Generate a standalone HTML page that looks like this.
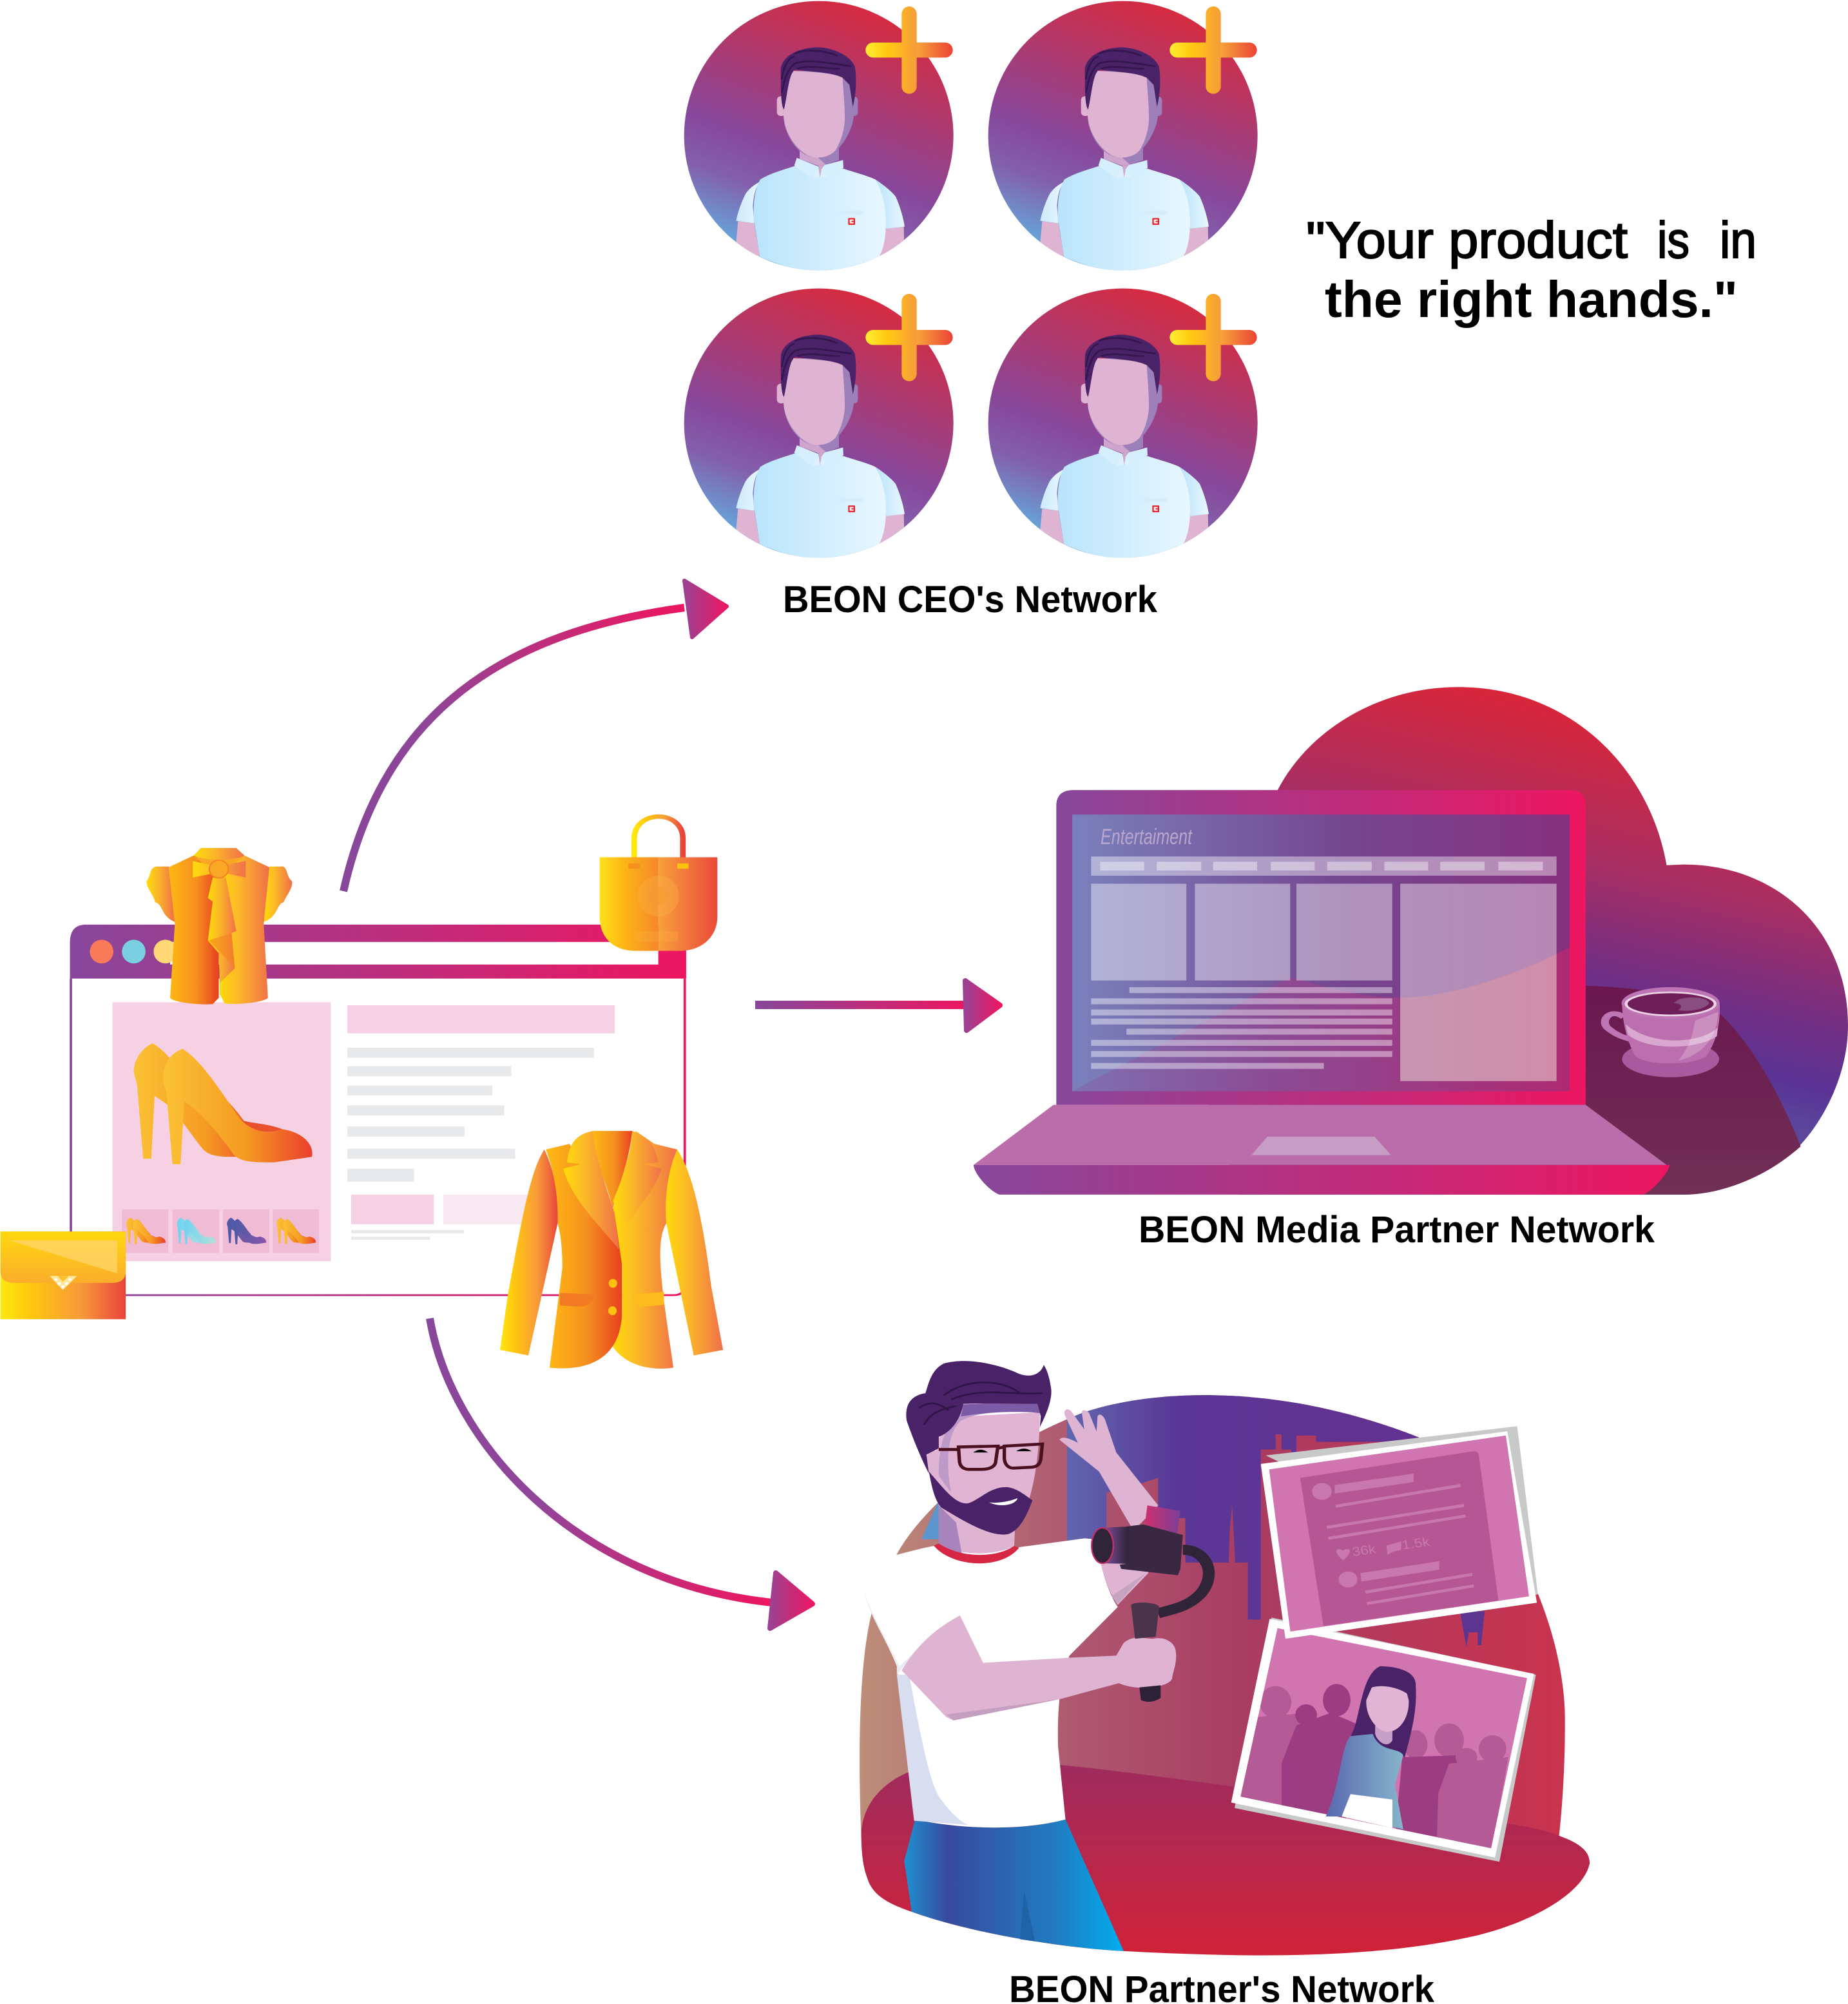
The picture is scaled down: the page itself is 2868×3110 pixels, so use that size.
<!DOCTYPE html>
<html><head><meta charset="utf-8"><title>BEON Networks</title>
<style>html,body{margin:0;padding:0;background:#fff}svg{display:block}
text{font-family:"Liberation Sans",sans-serif;white-space:pre}</style></head><body>
<svg xmlns="http://www.w3.org/2000/svg" width="2868" height="3110" viewBox="0 0 2868 3110">
<defs>
<linearGradient id="pp"><stop offset="0" stop-color="#87479b"/><stop offset="1" stop-color="#ed1660"/></linearGradient>
<linearGradient id="head"><stop offset="0" stop-color="#9c4192"/><stop offset="1" stop-color="#ec1763"/></linearGradient>
<linearGradient id="a1" gradientUnits="userSpaceOnUse" x1="533" y1="1383" x2="1062" y2="943"><stop offset="0" stop-color="#87479b"/><stop offset=".4" stop-color="#8f4598"/><stop offset="1" stop-color="#ed1660"/></linearGradient>
<linearGradient id="a3" gradientUnits="userSpaceOnUse" x1="667" y1="2046" x2="1198" y2="2487"><stop offset="0" stop-color="#87479b"/><stop offset=".45" stop-color="#90459a"/><stop offset="1" stop-color="#ed1660"/></linearGradient>
<linearGradient id="av" x1=".666" y1="0" x2=".314" y2=".945"><stop offset="0" stop-color="#d92a3c"/><stop offset=".61" stop-color="#87479b"/><stop offset=".78" stop-color="#8360ab"/><stop offset="1" stop-color="#65a5da"/></linearGradient>
<linearGradient id="shL"><stop offset="0" stop-color="#b9e4fb"/><stop offset="1" stop-color="#e8f7ff"/></linearGradient>
<linearGradient id="shS"><stop offset="0" stop-color="#cdeafb"/><stop offset="1" stop-color="#e8f7ff"/></linearGradient>
<linearGradient id="plH"><stop offset="0" stop-color="#ffee33"/><stop offset=".25" stop-color="#ffc90f"/><stop offset=".6" stop-color="#f7a13a"/><stop offset="1" stop-color="#ea4335"/></linearGradient>
<linearGradient id="plV"><stop offset="0" stop-color="#fbb225"/><stop offset="1" stop-color="#f59d3a"/></linearGradient>
<linearGradient id="or1"><stop offset="0" stop-color="#ffb914"/><stop offset=".55" stop-color="#f58f1f"/><stop offset="1" stop-color="#e8401f"/></linearGradient>
<linearGradient id="or2"><stop offset="0" stop-color="#ffdc0a"/><stop offset=".4" stop-color="#fbb728"/><stop offset="1" stop-color="#f0704a"/></linearGradient>
<linearGradient id="or3"><stop offset="0" stop-color="#ffe80f"/><stop offset=".25" stop-color="#ffc60f"/><stop offset=".65" stop-color="#f7993a"/><stop offset="1" stop-color="#e8443a"/></linearGradient>
<linearGradient id="bagL"><stop offset="0" stop-color="#ffe01a"/><stop offset=".4" stop-color="#fdb715"/><stop offset="1" stop-color="#f5882a"/></linearGradient>
<linearGradient id="bagR"><stop offset="0" stop-color="#f8a03c"/><stop offset="1" stop-color="#ea4a3a"/></linearGradient>
<linearGradient id="shoe1"><stop offset="0" stop-color="#fbc235"/><stop offset=".55" stop-color="#f59b22"/><stop offset="1" stop-color="#ea3f2e"/></linearGradient>
<linearGradient id="shoe2"><stop offset="0" stop-color="#6fd3f2"/><stop offset="1" stop-color="#b5e0d8"/></linearGradient>
<linearGradient id="shoe3"><stop offset="0" stop-color="#4a5aa8"/><stop offset="1" stop-color="#8a55a8"/></linearGradient>
<linearGradient id="flap" x1="0" y1="0" x2="0" y2="1"><stop offset="0" stop-color="#ffd80f"/><stop offset="1" stop-color="#fbad2b"/></linearGradient>
<linearGradient id="cloud" gradientUnits="userSpaceOnUse" x1="1000" y1="60" x2="642" y2="955"><stop offset="0" stop-color="#d9263a"/><stop offset=".4" stop-color="#a82e62"/><stop offset=".72" stop-color="#6f2f86"/><stop offset=".88" stop-color="#5a3394"/><stop offset="1" stop-color="#5b469c"/></linearGradient>
<linearGradient id="table" x1="0" y1="0" x2="0" y2="1"><stop offset="0" stop-color="#6a174f"/><stop offset="1" stop-color="#703055"/></linearGradient>
<linearGradient id="scr"><stop offset="0" stop-color="#7a80bc"/><stop offset=".55" stop-color="#75468f"/><stop offset="1" stop-color="#86307e"/></linearGradient>
<linearGradient id="scr2"><stop offset="0" stop-color="#7f70b2"/><stop offset=".4" stop-color="#8b4b94"/><stop offset="1" stop-color="#ad2a72"/></linearGradient>
<linearGradient id="ground" gradientUnits="userSpaceOnUse" x1="45" y1="0" x2="1475" y2="0"><stop offset="0" stop-color="#bd8e79"/><stop offset=".3" stop-color="#ae5870"/><stop offset=".55" stop-color="#a93c62"/><stop offset="1" stop-color="#c9334e"/></linearGradient>
<linearGradient id="sky" gradientUnits="userSpaceOnUse" x1="465" y1="0" x2="1100" y2="0"><stop offset="0" stop-color="#5f66ae"/><stop offset=".35" stop-color="#5a3796"/><stop offset="1" stop-color="#623290"/></linearGradient>
<linearGradient id="floor" x1="0" y1="0" x2="0" y2="1"><stop offset="0" stop-color="#9f2b5e"/><stop offset="1" stop-color="#d02238"/></linearGradient>
<linearGradient id="jean"><stop offset="0" stop-color="#1e90cf"/><stop offset=".2" stop-color="#384a9f"/><stop offset=".7" stop-color="#1f7dc2"/><stop offset="1" stop-color="#01aeef"/></linearGradient>
<linearGradient id="phone"><stop offset="0" stop-color="#d02f6e"/><stop offset="1" stop-color="#7a4096"/></linearGradient>
<linearGradient id="lens"><stop offset="0" stop-color="#8a52a0"/><stop offset=".5" stop-color="#5a3a6e"/><stop offset="1" stop-color="#2f2438"/></linearGradient>
<linearGradient id="wtop"><stop offset="0" stop-color="#5868b0"/><stop offset="1" stop-color="#86b5ca"/></linearGradient>
<g id="shoe">
<path d="M323,643C300,655 282,690 283,722L290,755L303,955L320,955L327,785L358,812C385,850 410,900 430,930C445,950 470,950 500,950L560,880L520,860C490,800 400,690 360,685C350,668 335,652 323,643Z"/>
<path d="M386,658C360,670 345,700 345,740C347,760 352,770 352,775L365,970H382L390,800C420,825 460,880 495,945C510,965 540,965 580,965L660,950C665,920 645,885 597,875C580,885 540,890 510,850C480,800 430,690 386,658Z"/>
</g>
<clipPath id="avc"><circle cx="692" cy="632" r="627"/></clipPath>
<g id="avatar">
<circle cx="692" cy="632" r="627" fill="url(#av)"/>
<g clip-path="url(#avc)">
<path d="M316,1030L392,1040L418,1195L480,1262L250,1262L307,1130Z" fill="#dfb3d2"/>
<path d="M1005,1065L1088,1055L1092,1240L900,1262L972,1195Z" fill="#dfb3d2"/>
<path d="M420,845C390,860 365,880 350,905C330,945 315,990 307,1028L392,1040L385,960C390,900 400,870 420,845Z" fill="url(#shS)"/>
<path d="M955,835C1000,865 1030,890 1050,915C1070,960 1085,1010 1092,1055L1005,1065C1005,960 985,880 955,835Z" fill="url(#shL)"/>
<path d="M420,835C470,805 530,790 590,770L690,815L700,825L705,815L805,785C850,800 910,815 955,835C985,880 1005,960 1005,1040C1005,1110 990,1170 972,1195C870,1240 780,1262 695,1265C600,1262 500,1232 418,1195L390,1020C385,950 395,875 420,835Z" fill="url(#shL)"/>
</g>
<path d="M603,690L603,740L690,772L725,765L786,745L786,690Z" fill="#cda5cc"/>
<path d="M690,735L786,690L786,745L725,767Z" fill="#9d80ba"/>
<path d="M680,785L735,785L738,825L660,828Z" fill="#dcf1fd"/>
<path d="M690,772L698,828L704,790L725,765Z" fill="#cda5cc"/>
<path d="M590,735L690,775L698,825L690,790L650,825L578,770Z" fill="#d5effd"/>
<path d="M805,745L720,768L703,790L735,822L807,782Z" fill="#d5effd"/>
<rect x="497" y="448" width="40" height="92" rx="18" fill="#dfb3d2"/>
<rect x="838" y="450" width="36" height="90" rx="16" fill="#9d80ba"/>
<path d="M528,360L528,540C530,620 580,690 620,715C650,735 720,745 770,705C810,670 850,600 855,540L858,380C840,340 720,330 600,330Z" fill="#9d80ba"/>
<path d="M575,330C555,360 535,400 530,440L528,540C535,620 580,680 620,710C660,745 735,740 770,700C795,660 815,600 813,540C812,470 805,410 803,360C760,340 660,335 575,330Z" fill="#dfb3d2"/>
<path d="M515,320C520,270 580,225 680,220C760,220 840,260 860,310C870,370 865,440 851,498L835,395L803,362C750,335 660,335 588,325L575,328C550,360 545,450 530,510C515,490 515,420 515,320Z" fill="#4a2268"/>
<path d="M520,370C525,320 545,270 580,262M520,430C530,370 550,310 590,290M580,250C630,225 720,235 780,260M585,295C650,270 760,300 845,308M590,320C650,300 720,320 790,320" fill="none" stroke="#34164f" stroke-width="8"/>
<rect x="790" y="982" width="108" height="16" fill="#d5ecfa"/>
<rect x="829" y="1015" width="32" height="32" rx="3" fill="#e8262d"/>
<path d="M836,1022h18v6h-10v6h10v6h-18z" fill="#fff"/>
<path d="M910,233a35,35 0 0 1 35,-35H1281a35,35 0 0 1 0,70H945a35,35 0 0 1 -35,-35Z" fill="url(#plH)"/>
<path d="M1078,65a35,35 0 0 1 70,0V402a35,35 0 0 1 -70,0Z" fill="url(#plV)"/>
</g>
</defs>

<use href="#avatar" transform="translate(1040,0) scale(.33333)"/>
<use href="#avatar" transform="translate(1512,0) scale(.33333)"/>
<use href="#avatar" transform="translate(1040,446) scale(.33333)"/>
<use href="#avatar" transform="translate(1512,446) scale(.33333)"/>

<g fill="#000" stroke="#000" stroke-width="2" font-size="80">
<text x="2027" y="400" textLength="499" lengthAdjust="spacingAndGlyphs">"Your product</text>
<text x="2572" y="400" textLength="50" lengthAdjust="spacingAndGlyphs">is</text>
<text x="2669" y="400" textLength="57" lengthAdjust="spacingAndGlyphs">in</text>
</g>
<text x="2056" y="492" font-size="80" font-weight="bold" textLength="641" lengthAdjust="spacingAndGlyphs" fill="#000">the right hands."</text>
<text x="1215" y="950" font-size="58" font-weight="bold" textLength="581" lengthAdjust="spacingAndGlyphs" fill="#000">BEON CEO's Network</text>
<text x="1767" y="1928" font-size="58" font-weight="bold" textLength="801" lengthAdjust="spacingAndGlyphs" fill="#000">BEON Media Partner Network</text>
<text x="1566" y="3107" font-size="58" font-weight="bold" textLength="660" lengthAdjust="spacingAndGlyphs" fill="#000">BEON Partner's Network</text>

<!-- arrows -->
<path d="M533,1383C590,1130 750,985 1062,943" fill="none" stroke="url(#a1)" stroke-width="12"/>
<path d="M1062,901L1128,941L1074,989Z" fill="url(#head)" stroke="url(#head)" stroke-width="6" stroke-linejoin="round"/>
<rect x="1172" y="1553" width="330" height="13" fill="url(#pp)"/>
<path d="M1498,1522L1552,1560L1500,1599Z" fill="url(#head)" stroke="url(#head)" stroke-width="8" stroke-linejoin="round"/>
<path d="M667,2046C700,2240 895,2455 1198,2487" fill="none" stroke="url(#a3)" stroke-width="12"/>
<path d="M1204,2441L1261,2489L1195,2527Z" fill="url(#head)" stroke="url(#head)" stroke-width="8" stroke-linejoin="round"/>

<!-- left e-commerce window -->
<g transform="translate(0,1250) scale(.7334,.574)">
<path d="M150,468V1324H1425Q1449,1324 1449,1295V468" fill="#fff" stroke="url(#pp)" stroke-width="5"/>
<path d="M182,322H1452V468H148V370Q148,322 182,322Z" fill="url(#pp)"/>
<rect x="360" y="369" width="1033" height="61" fill="#fff"/>
<ellipse cx="215" cy="395" rx="25" ry="32" fill="#f97a58"/>
<ellipse cx="283" cy="395" rx="25" ry="32" fill="#7acfe0"/>
<ellipse cx="350" cy="395" rx="25" ry="32" fill="#ffd877"/>
<rect x="238" y="532" width="462" height="700" fill="#f5d1e3"/>
<g fill="#f0bbd4"><rect x="258" y="1092" width="98" height="118"/><rect x="365" y="1092" width="99" height="118"/><rect x="472" y="1092" width="98" height="118"/><rect x="577" y="1092" width="98" height="118"/></g>
<rect x="735" y="540" width="566" height="76" fill="#f5d1e3"/>
<g fill="#e8e9ea"><rect x="735" y="655" width="522" height="27"/><rect x="735" y="705" width="347" height="27"/><rect x="735" y="757" width="307" height="27"/><rect x="735" y="811" width="332" height="27"/><rect x="735" y="868" width="248" height="27"/><rect x="735" y="928" width="355" height="27"/><rect x="735" y="982" width="141" height="35"/><rect x="743" y="1148" width="239" height="9"/><rect x="743" y="1166" width="167" height="8"/></g>
<rect x="743" y="1052" width="175" height="80" fill="#f5d1e3"/>
<rect x="938" y="1052" width="192" height="80" fill="#f8e8f1"/>
<use href="#shoe" fill="url(#shoe1)"/>
<path d="M510,850C530,860 560,858 597,875C580,885 540,890 510,850Z" fill="#e8502e"/>
<use href="#shoe" fill="url(#shoe1)" transform="translate(205,973) scale(.22)"/>
<use href="#shoe" fill="url(#shoe2)" transform="translate(312,973) scale(.22)"/>
<use href="#shoe" fill="url(#shoe3)" transform="translate(418,973) scale(.22)"/>
<use href="#shoe" fill="url(#shoe1)" transform="translate(523,973) scale(.22)"/>

<!-- blouse -->
<path d="M357,165L330,165C315,170 320,190 310,205C310,225 325,240 328,262C345,265 340,300 370,315Z" fill="url(#or2)"/>
<path d="M570,165L600,165C610,175 605,190 618,205C620,225 605,245 600,262C585,265 590,300 558,315Z" fill="url(#or2)"/>
<path d="M410,135L517,135L520,205H408Z" fill="#f9a825"/>
<path d="M410,135L357,167L370,320L360,520C365,532 420,540 450,537L463,520V200Z" fill="url(#or1)"/>
<path d="M517,135L570,167L558,320L567,520C560,532 500,540 475,535L465,510L463,200Z" fill="url(#or2)"/>
<path d="M425,115L500,115L517,135C500,150 430,150 410,135Z" fill="url(#or2)"/>
<path d="M450,195L478,195L500,340L490,345L497,440L465,480L463,400L440,365L450,260L440,250Z" fill="url(#or2)"/>
<path d="M442,365L490,345L497,440L465,395Z" fill="#f58220" opacity=".6"/>
<path d="M408,150L460,165L520,150L520,195L465,180L408,195Z" fill="url(#or2)"/>
<ellipse cx="463" cy="172" rx="20" ry="24" fill="#f9a825" stroke="#f58220" stroke-width="3"/>

<!-- bag -->
<path d="M1342,160V90C1342,10 1445,10 1445,90V160" fill="none" stroke="url(#or3)" stroke-width="12"/>
<path d="M1269,140H1393V393H1345C1300,393 1269,360 1269,300Z" fill="url(#bagL)"/>
<path d="M1393,140H1518V300C1518,360 1480,393 1440,393H1393Z" fill="url(#bagR)"/>
<rect x="1330" y="157" width="24" height="14" fill="#f58f1f"/><rect x="1433" y="157" width="24" height="14" fill="#ffc20f"/>
<ellipse cx="1393" cy="245" rx="44" ry="55" fill="#fbb040" opacity=".4"/>
<ellipse cx="1393" cy="245" rx="20" ry="26" fill="#f59a30" opacity=".5"/>
<rect x="1345" y="340" width="90" height="28" rx="6" fill="#fbb040" opacity=".3"/>

<!-- purse -->
<rect x="1" y="1152" width="265" height="237" fill="url(#or3)"/>
<path d="M1,1152H266V1260Q266,1291 236,1291H30Q1,1291 1,1260Z" fill="url(#flap)"/>
<path d="M20,1176H248V1265Z" fill="#ffd463" opacity=".85"/>
<path d="M105,1272H163L133,1310Z" fill="#ffe69a"/>
<path d="M122,1272H146L133,1288Z" fill="#fbc02d"/>
<g fill="#fff"><circle cx="118" cy="1282" r="3.5"/><circle cx="148" cy="1282" r="3.5"/><circle cx="125" cy="1293" r="4"/><circle cx="141" cy="1293" r="4"/><circle cx="133" cy="1301" r="4"/></g>

<!-- jacket -->
<path d="M1152,930C1120,990 1100,1150 1075,1320L1058,1472L1118,1487L1180,1130C1185,1050 1170,980 1152,930Z" fill="url(#or3)"/>
<path d="M1433,930C1470,1000 1490,1150 1505,1300L1530,1472L1468,1487L1410,1130C1400,1050 1415,980 1433,930Z" fill="url(#or2)"/>
<path d="M1316,1240L1295,1100L1345,880L1385,915L1433,930C1415,980 1405,1060 1410,1130C1385,1180 1400,1300 1425,1520C1370,1530 1320,1510 1295,1460C1310,1430 1316,1400 1316,1370Z" fill="url(#or2)"/>
<path d="M1155,930L1205,915L1300,1100L1316,1240L1316,1380C1310,1500 1240,1530 1163,1520L1190,1250C1190,1190 1185,1150 1180,1130C1182,1050 1170,980 1155,930Z" fill="url(#or1)"/>
<path d="M1254,880L1338,880C1330,970 1310,1020 1297,1090C1280,1000 1255,960 1254,880Z" fill="url(#or1)"/>
<path d="M1254,880C1220,890 1205,910 1200,965L1228,970L1192,982C1210,1060 1250,1110 1310,1200L1300,1100C1280,1020 1260,950 1254,880Z" fill="url(#or2)"/>
<path d="M1338,880C1380,900 1388,930 1392,965L1362,970L1400,982C1385,1040 1350,1090 1308,1165L1325,1130L1297,1070C1320,1000 1335,940 1338,880Z" fill="url(#or2)"/>
<ellipse cx="1297" cy="1292" rx="9" ry="12" fill="#ffc20f"/><ellipse cx="1296" cy="1366" rx="9" ry="12" fill="#ffc20f"/>
<path d="M1185,1318L1258,1322C1258,1345 1240,1355 1225,1355L1185,1352Z" fill="#f27a25"/>
<path d="M1335,1322L1405,1315V1350L1360,1355C1345,1355 1335,1340 1335,1322Z" fill="#fdbb1f"/>
</g>

<!-- laptop + cloud -->
<g transform="translate(1480,1050) scale(.8852,.5421)">
<path d="M568,325C620,160 740,30 885,30C1080,30 1220,260 1250,540L1280,538C1440,538 1568,720 1568,1000C1568,1130 1530,1260 1485,1340C1420,1440 1340,1483 1280,1483L500,1483L400,1000Z" fill="url(#cloud)"/>
<path d="M1108,885C1200,890 1290,910 1340,960C1400,1050 1450,1200 1485,1345C1420,1440 1340,1483 1280,1483H1108Z" fill="url(#table)"/>
<path d="M210,325H1080Q1108,325 1108,370V1226H180V370Q180,325 210,325Z" fill="url(#pp)"/>
<rect x="208" y="395" width="872" height="792" fill="url(#scr)"/>
<path d="M208,1187L590,860C650,890 720,920 790,920C880,915 990,850 1080,775V1187Z" fill="url(#scr2)"/>
<g fill="#fff" fill-opacity=".42">
<rect x="241" y="515" width="816" height="55"/>
<rect x="241" y="593" width="167" height="277"/><rect x="423" y="593" width="167" height="277"/><rect x="601" y="593" width="168" height="277"/><rect x="783" y="593" width="274" height="565"/>
<rect x="308" y="889" width="461" height="17"/><rect x="241" y="921" width="528" height="17"/><rect x="241" y="953" width="528" height="17"/><rect x="241" y="979" width="528" height="17"/><rect x="303" y="1008" width="466" height="17"/><rect x="241" y="1040" width="528" height="17"/><rect x="241" y="1072" width="528" height="17"/><rect x="241" y="1106" width="408" height="17"/>
</g>
<path d="M783,920C880,915 990,850 1057,795V1158H783Z" fill="#dcc08f" fill-opacity=".17"/>
<g fill="#fff" fill-opacity=".4"><rect x="257" y="530" width="77" height="25"/><rect x="356" y="530" width="78" height="25"/><rect x="455" y="530" width="77" height="25"/><rect x="556" y="530" width="77" height="25"/><rect x="655" y="530" width="78" height="25"/><rect x="755" y="530" width="77" height="25"/><rect x="853" y="530" width="78" height="25"/><rect x="955" y="530" width="78" height="25"/></g>
<path d="M175,1226H1108L1250,1398H35Z" fill="#bb6dab"/>
<path d="M550,1317H738L767,1370H522Z" fill="#c79cc5"/>
<path d="M35,1398H1255C1255,1415 1230,1465 1210,1483H80C60,1470 35,1420 35,1398Z" fill="url(#pp)"/>
<!-- cup -->
<ellipse cx="1257" cy="1095" rx="85" ry="52" fill="#a85a9f"/>
<path d="M1175,975C1150,945 1130,990 1150,1010C1165,1030 1180,1035 1190,1040" fill="none" stroke="#bd75b3" stroke-width="14"/>
<path d="M1172,935C1172,1000 1185,1060 1195,1085C1210,1115 1300,1115 1320,1085C1335,1050 1345,1000 1343,935Z" fill="#bb6fae"/>
<path d="M1178,995C1215,1050 1300,1060 1340,1005L1338,1030C1300,1070 1215,1070 1182,1025Z" fill="#d9a8cf"/>
<path d="M1300,985L1340,960C1340,1020 1320,1080 1270,1100C1290,1060 1295,1030 1300,985Z" fill="#fff" fill-opacity=".22"/>
<ellipse cx="1257" cy="935" rx="86" ry="46" fill="#bd75b3"/>
<ellipse cx="1257" cy="937" rx="78" ry="33" fill="#6f1e59" stroke="#ecd3e6" stroke-width="5"/>
<path d="M1270,925C1285,915 1320,915 1325,935C1315,955 1290,960 1270,955C1280,945 1275,935 1262,935Z" fill="#8a4d7f"/>
</g>
<text x="1708" y="1310" font-size="34" font-style="italic" textLength="142" lengthAdjust="spacingAndGlyphs" fill="#b9a6cc">Entertaiment</text>

<!-- partner scene -->
<clipPath id="dome"><path d="M48,1180C40,950 45,750 70,640L120,505C170,400 300,260 500,170C640,115 900,100 1180,230C1340,350 1475,650 1475,900C1475,1000 1470,1100 1462,1180Z"/></clipPath>
<clipPath id="ph2"><path d="M892,680L1398,798L1325,1200L817,1078Z"/></clipPath>
<g transform="translate(1300,2080) scale(.7653,.6569)">
<g clip-path="url(#dome)">
<rect x="0" y="80" width="1520" height="1120" fill="url(#ground)"/>
<path d="M465,80H1400V240H970V225H930V265H920V258H900V222H888V258H858V660H832V525H806L803,450L800,390L795,450L793,525H705V420H650V325L610,340L545,360V480H465Z" fill="url(#sky)"/>
<path d="M170,470L205,378V470Z" fill="#5d95cf"/>
<path d="M1262,640H1312L1305,720H1298V690H1280L1275,725Z" fill="#5c3590"/>
</g>
<path d="M48,1170C48,1090 100,1040 145,1020L450,1003C600,1020 800,1055 1000,1085C1200,1115 1400,1140 1462,1170C1510,1190 1525,1210 1525,1235C1515,1300 1420,1370 1300,1405C1100,1460 850,1460 580,1443C450,1435 270,1400 150,1350C100,1330 70,1310 60,1270C50,1240 48,1200 48,1170Z" fill="url(#floor)"/>
<!-- jeans -->
<path d="M157,1132C250,1155 370,1160 462,1132L580,1443C450,1435 270,1400 150,1350L135,1230Z" fill="url(#jean)"/>
<path d="M378,1300L400,1420L370,1415Z" fill="#1e63a5"/>
<!-- raised arm -->
<path d="M525,470L620,440L630,550L568,625C545,590 530,520 525,470Z" fill="#dfb3d2"/>
<path d="M555,605L625,550L568,622Z" fill="#c7a3c2"/>
<path d="M450,235C455,225 470,232 487,242L460,175C458,160 470,160 475,170L500,210L495,170C497,162 505,165 510,172L525,215L527,180C530,170 540,178 543,190L565,265L650,390L600,450L530,310Z" fill="#dfb3d2"/>
<!-- shirt -->
<path d="M115,508C160,495 190,485 205,485L360,490L500,468L525,470C530,520 545,590 568,630L470,745C450,800 445,880 447,960L462,1132C370,1160 250,1155 157,1132L120,770C100,710 65,650 55,600C50,560 60,530 115,508Z" fill="#fff"/>
<path d="M120,790H145C170,950 190,1060 210,1085C225,1110 245,1135 265,1145L155,1135Z" fill="#d9ddf0"/>
<path d="M55,600C65,650 100,710 120,765L120,790C135,770 160,730 190,700L125,770C100,710 70,650 55,600Z" fill="#e7ebf1"/>
<!-- neck/collar -->
<path d="M205,380V480C240,510 320,510 358,486L360,430Z" fill="#dfb3d2"/>
<path d="M205,390L240,430L252,505C225,500 210,490 205,480Z" fill="#a784bb"/>
<path d="M195,485C230,535 330,545 368,490L358,486C320,515 250,515 205,480Z" fill="#d62844"/>
<!-- head -->
<path d="M255,180L410,170C410,260 400,370 365,440C340,470 280,440 240,410C210,380 195,340 190,310L205,230Z" fill="#e0b4d2"/>
<path d="M255,150C225,190 205,230 205,320L230,360C220,300 220,220 250,190C290,165 350,170 410,170L405,150C360,145 300,150 255,150Z" fill="#be9ac8"/>
<path d="M255,152C300,148 360,148 405,150L410,172C360,165 300,170 250,180Z" fill="#7b5aa6"/>
<ellipse cx="192" cy="287" rx="13" ry="30" fill="#dfb3d2"/>
<path d="M185,310C215,350 240,390 265,385C290,375 310,345 345,347C365,350 385,370 395,378C385,410 370,450 345,458C310,465 260,430 210,395C195,375 190,340 185,310Z" fill="#4a2268"/>
<path d="M307,383C325,385 345,382 365,373C360,390 330,395 307,383Z" fill="#fff"/>
<path d="M178,125C150,130 135,150 140,190C155,240 170,280 185,315L180,270L205,255V228C235,215 250,180 255,150C300,148 360,150 405,150L412,180L410,205C425,170 435,140 433,115C430,90 425,70 418,58C410,85 385,90 360,75C320,55 260,40 215,55C190,70 185,100 178,125Z" fill="#4a2268"/>
<path d="M165,160C190,140 205,150 225,165M175,200C190,170 205,165 240,155M215,130C260,90 330,90 370,125M230,140C290,110 350,130 415,125" fill="none" stroke="#2f1547" stroke-width="4"/>
<path d="M205,258H245M325,255L338,252M245,252L325,250L320,290Q315,305 290,305H265Q248,303 247,285ZM338,250L415,245L412,280Q410,300 390,300L355,302Q340,300 338,280Z" fill="none" stroke="#4b1020" stroke-width="7"/>
<path d="M275,265Q290,252 305,265ZM362,262Q378,250 393,262Z" fill="#000"/>
<!-- arm and hand -->
<path d="M580,715C600,695 620,705 640,705C660,700 680,710 685,730C690,760 680,780 678,800C670,820 610,830 570,810L450,848L235,898L220,890L130,780C160,720 200,680 248,650L295,762L470,750L565,745Z" fill="#dfb3d2"/>
<path d="M220,884L450,848L235,898Z" fill="#c59fc0"/>
<!-- gimbal -->
<path d="M700,495C750,495 770,555 735,600C710,630 680,635 650,645" fill="none" stroke="#2f2438" stroke-width="24"/>
<path d="M612,820L655,815V845Q635,860 615,850Z" fill="#2c2137"/>
<path d="M595,625C605,615 650,620 652,630L645,700L603,705Z" fill="#49344c"/>
<path d="M628,390L695,403L688,460L622,445Z" fill="url(#phone)"/>
<path d="M585,440L620,435L700,460L695,540L690,555L575,540L572,530L585,528Z" fill="#3a2843"/>
<path d="M535,443L590,440V528L535,527Z" fill="url(#lens)"/>
<ellipse cx="537" cy="485" rx="22" ry="42" fill="#2f2438" stroke="#c82d6b" stroke-width="3"/>
<!-- photo post 2 -->
<path d="M880,655L1416,790L1342,1232L805,1105Z" fill="#c8cac9"/>
<path d="M876,658L1412,788L1333,1222L798,1092Z" fill="#fdfefd"/>
<path d="M892,680L1398,798L1325,1200L817,1078Z" fill="#d075af"/>
<g clip-path="url(#ph2)">
<g fill="#b45a96"><ellipse cx="888" cy="855" rx="32" ry="38"/><path d="M810,1100L850,890L955,880L905,1120Z"/><ellipse cx="1172" cy="955" rx="24" ry="34"/><ellipse cx="1240" cy="945" rx="30" ry="40"/></g>
<g fill="#9b3d80"><ellipse cx="950" cy="885" rx="22" ry="25"/><ellipse cx="1012" cy="850" rx="28" ry="38"/><path d="M900,1120V1000L930,910L1000,880L1050,905L1030,1140Z"/><path d="M1145,985L1265,980L1250,1100L1215,1190L1130,1170Z"/></g>
<g fill="#b45a96"><ellipse cx="1328" cy="965" rx="28" ry="32"/><ellipse cx="1275" cy="985" rx="22" ry="22"/><path d="M1240,1000L1360,985L1325,1215L1215,1185L1218,1070Z"/></g>
</g>
<path d="M1100,770C1060,790 1060,900 1040,935L1150,985C1170,900 1175,860 1172,810C1160,790 1140,800 1135,790C1130,775 1110,770 1100,770Z" fill="#4a2268"/>
<path d="M1090,910H1125V945C1115,965 1095,950 1090,930Z" fill="#c59fc8"/>
<path d="M1072,850C1070,890 1095,925 1115,925C1140,925 1160,890 1158,850L1150,815L1085,815Z" fill="#e0b4d2"/>
<path d="M1075,825C1090,812 1130,815 1155,835L1172,810C1170,780 1130,770 1100,770C1075,790 1072,810 1075,825Z" fill="#4a2268"/>
<path d="M1040,935C1020,960 1020,1050 990,1125L1030,1125L1147,1155L1130,1050L1147,980C1135,960 1100,975 1085,930Z" fill="url(#wtop)"/>
<path d="M1040,1072L1125,1085V1152L1022,1125Z" fill="#fff"/>
<!-- photo post 1 -->
<path d="M868,272L1378,203L1420,600L1390,610L900,290Z" fill="#c8cac9"/>
<path d="M858,292L1358,215L1418,620L908,705Z" fill="#fdfefd"/>
<path d="M875,305L1355,225L1402,605L918,688Z" fill="#d075af"/>
<path d="M938,325L1290,262Q1298,262 1300,270L1340,615L985,675Z" fill="#b45794"/>
<g fill="#c878ad"><circle cx="982" cy="357" r="20"/><path d="M1008,342L1168,315V335L1008,362Z"/><circle cx="1035" cy="565" r="19"/><path d="M1060,550L1220,522V542L1062,570Z"/>
<path d="M1025,520C1000,495 1015,488 1025,497C1035,488 1050,495 1025,520Z"/><path d="M1113,485L1143,475V495L1125,500L1115,507Z"/></g>
<path d="M1010,392L1263,343M992,442L1270,390M995,468L1273,415M1070,595L1287,553M1073,622L1290,580" stroke="#c878ad" stroke-width="7" fill="none"/>
<text x="1045" y="510" font-size="30" fill="#c878ad" transform="rotate(-9 1045 510)">36k</text>
<text x="1146" y="494" font-size="30" fill="#c878ad" transform="rotate(-9 1146 494)">1.5k</text>
</g>
</svg>
</body></html>
